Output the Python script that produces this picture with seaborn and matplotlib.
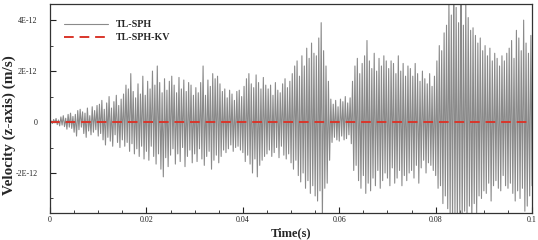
import numpy as np
import pandas as pd
import matplotlib
matplotlib.use("Agg")
import matplotlib.pyplot as plt
import seaborn as sns
from matplotlib.ticker import MultipleLocator, FixedLocator, FixedFormatter

# TL-SPH velocity (units of 1E-12 m/s), sampled every 0.00025 s from 0 to 0.1 s
vel_tlsph = [
    0.00, 0.04, -0.06, 0.10, -0.03, 0.14, -0.10, 0.08, -0.15, 0.20, -0.12, 0.25, -0.18, 0.15, -0.28, 0.30, -0.20, 0.35, -0.25, 0.22,
    -0.40, 0.30, -0.55, 0.45, -0.30, 0.50, -0.20, 0.40, -0.45, 0.35, -0.60, 0.55, -0.35, 0.25, -0.50, 0.60, -0.40, 0.45, -0.30, 0.65,
    -0.55, 0.70, -0.45, 0.85, -0.70, 0.50, -0.90, 0.75, -0.60, 1.00, -0.75, 0.55, -0.95, 0.80, -0.50, 1.05, -0.80, 0.65, -1.00, 0.90,
    -0.70, 1.10, -0.95, 1.45, -0.80, 1.30, -1.15, 1.90, -0.85, 1.20, -1.25, 0.95, -1.05, 1.50, -1.35, 1.10, -0.95, 1.80, -1.45, 1.05,
    -1.15, 1.60, -1.50, 1.30, -0.95, 2.00, -1.35, 1.45, -1.65, 2.20, -1.25, 1.55, -1.85, 1.15, -2.15, 1.70, -1.40, 1.25, -1.75, 1.60,
    -1.30, 1.80, -1.05, 1.45, -1.65, 1.15, -1.25, 1.75, -1.55, 1.30, -1.00, 1.65, -1.75, 1.20, -1.35, 1.55, -1.10, 1.45, -1.60, 1.05,
    -1.25, 1.35, -1.55, 1.15, -1.05, 1.55, -1.45, 2.20, -1.70, 1.05, -1.35, 1.65, -1.15, 1.40, -1.85, 1.90, -1.50, 1.70, -1.30, 1.80,
    -1.60, 1.50, -1.35, 1.20, -1.10, 1.30, -1.20, 0.95, -1.05, 1.25, -0.90, 1.10, -1.15, 0.85, -1.00, 1.20, -0.95, 1.25, -1.10, 1.00,
    -1.20, 1.40, -1.55, 1.70, -1.30, 1.90, -1.65, 1.50, -2.00, 1.35, -1.45, 1.85, -2.15, 1.55, -1.70, 1.30, -1.50, 1.75, -1.35, 1.45,
    -1.25, 1.30, -1.10, 1.45, -1.35, 1.05, -1.20, 1.55, -1.00, 1.25, -1.40, 1.15, -0.95, 1.50, -1.30, 1.70, -1.45, 1.35, -1.25, 1.60,
    -1.60, 1.90, -1.85, 2.20, -1.50, 2.40, -2.10, 1.80, -2.35, 2.60, -2.00, 2.20, -2.60, 2.90, -2.30, 2.50, -2.80, 3.10, -2.50, 2.70,
    -2.90, 2.60, -3.10, 3.30, -2.70, 3.90, -3.80, 2.80, -2.60, 2.20, -2.40, 1.60, -1.50, 0.90, -0.80, 0.70, -0.60, 0.85, -0.70, 0.60,
    -0.75, 0.90, -0.55, 0.80, -0.70, 1.00, -0.65, 0.75, -0.50, 0.95, -0.85, 1.60, -1.90, 2.20, -1.70, 2.50, -2.30, 1.90, -2.60, 2.30,
    -2.10, 2.60, -2.80, 3.20, -2.40, 2.40, -2.70, 2.10, -2.20, 2.70, -2.50, 2.00, -1.90, 2.50, -2.60, 2.20, -2.30, 2.60, -2.00, 2.40,
    -2.20, 2.10, -2.50, 2.40, -1.80, 2.30, -2.40, 1.90, -2.20, 2.60, -1.90, 2.00, -2.50, 2.30, -2.10, 1.80, -2.30, 2.20, -2.00, 2.10,
    -1.90, 1.80, -2.20, 2.30, -1.70, 1.90, -2.40, 1.60, -1.80, 2.00, -1.50, 1.70, -2.00, 1.50, -1.60, 1.90, -1.70, 1.40, -1.90, 1.80,
    -2.10, 2.40, -2.60, 3.00, -2.50, 2.80, -3.20, 3.50, -2.90, 3.80, -3.40, 4.80, -3.70, 4.20, -4.00, 5.00, -3.60, 4.50, -4.20, 3.90,
    -3.80, 5.20, -4.10, 3.80, -3.50, 4.70, -3.90, 4.10, -3.30, 3.60, -4.00, 3.70, -3.20, 3.40, -3.60, 3.10, -2.90, 3.30, -3.00, 2.80,
    -2.70, 3.00, -2.80, 2.60, -2.40, 2.90, -3.10, 2.40, -2.50, 2.70, -2.30, 2.50, -2.60, 2.20, -2.70, 2.60, -2.10, 2.40, -2.50, 2.70,
    -2.60, 2.90, -2.40, 3.20, -2.80, 2.50, -3.10, 3.60, -2.70, 3.30, -3.00, 2.80, -2.60, 4.00, -3.50, 3.10, -3.30, 2.70, -2.90, 3.40,
    -2.50,
]
time_tlsph = np.linspace(0.0, 0.1, len(vel_tlsph))

# TL-SPH-KV velocity (units of 1E-12 m/s)
time_kv = [0.0, 0.1]
vel_kv = [0.0, 0.0]

x_ticks = [0, 0.02, 0.04, 0.06, 0.08, 0.1]
x_tick_labels = ["0", "0.02", "0.04", "0.06", "0.08", "0.1"]
y_ticks = [-2, 0, 2, 4]
y_tick_labels = ["-2E-12", "0", "2E-12", "4E-12"]

sns.set_style("ticks")
plt.rcParams["font.family"] = ["Liberation Serif", "DejaVu Serif"]

fig = plt.figure(figsize=(5.38, 2.40), dpi=100)
ax = fig.add_axes([0.093, 0.1125, 0.896, 0.8705])

df1 = pd.DataFrame({"t": time_tlsph, "v": vel_tlsph})
df2 = pd.DataFrame({"t": time_kv, "v": vel_kv})
sns.lineplot(data=df1, x="t", y="v", ax=ax, color="#8a8a8a", linewidth=0.8,
             estimator=None, label="TL-SPH")
sns.lineplot(data=df2, x="t", y="v", ax=ax, color="#d9362b", linewidth=1.4,
             estimator=None, label="TL-SPH-KV")
ax.lines[1].set_dashes([5, 3])

ax.set_xlim(0, 0.1)
ax.set_ylim(-3.57, 4.63)
ax.xaxis.set_major_locator(FixedLocator(x_ticks))
ax.xaxis.set_major_formatter(FixedFormatter(x_tick_labels))
ax.xaxis.set_minor_locator(MultipleLocator(0.005))
ax.yaxis.set_major_locator(FixedLocator(y_ticks))
ax.yaxis.set_major_formatter(FixedFormatter(y_tick_labels))
ax.yaxis.set_minor_locator(MultipleLocator(1))
ax.tick_params(which="both", direction="in", top=False, right=False,
               labelsize=5.8, colors="#222222")
ax.tick_params(which="major", length=4, width=0.8)
ax.tick_params(which="minor", length=2.5, width=0.6)
ax.tick_params(axis="y", which="major", pad=9)
ax.tick_params(axis="x", which="major", pad=2)
for s in ax.spines.values():
    s.set_linewidth(0.9)
    s.set_color("#333333")

ax.set_xlabel("Time(s)", fontsize=9, fontweight="bold")
ax.xaxis.set_label_coords(0.5, -0.095)
ax.xaxis.label.set_va("center")
ax.set_ylabel("Velocity (z-axis) (m/s)", fontsize=11, fontweight="bold")
ax.yaxis.set_label_coords(-0.085, 0.42)
ax.yaxis.label.set_va("center")

leg = ax.legend(loc="upper left", frameon=False, prop={"weight": "bold", "size": 7.2},
                handlelength=4.4, handletextpad=0.8, labelspacing=0.4,
                bbox_to_anchor=(0.01, 0.965))

fig.savefig("out.png", dpi=100)
